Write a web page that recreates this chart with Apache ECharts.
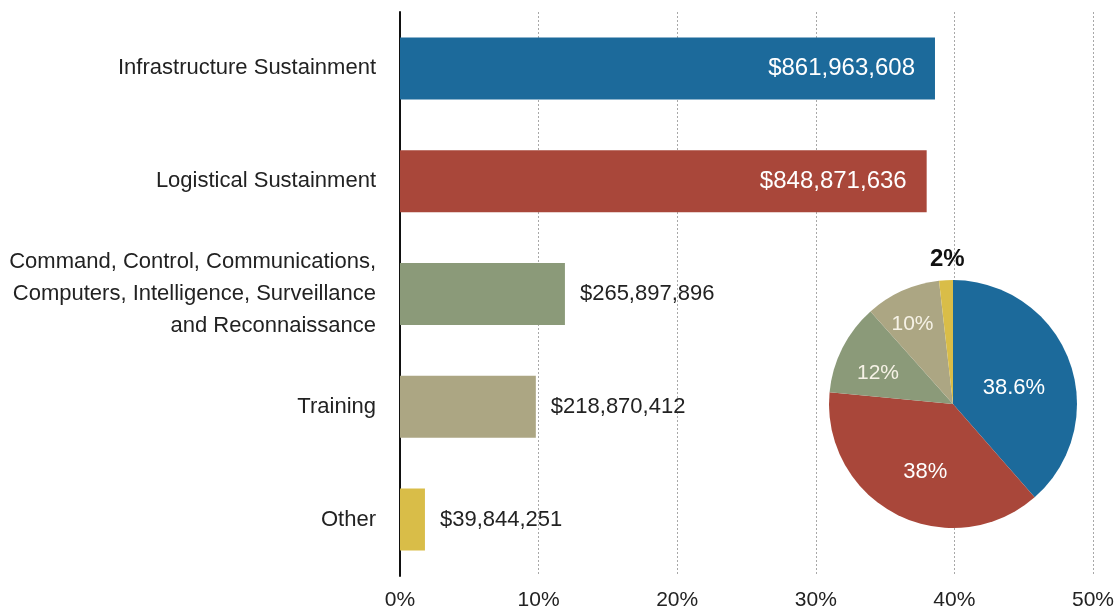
<!DOCTYPE html>
<html>
<head>
<meta charset="utf-8">
<script src="https://cdn.jsdelivr.net/npm/echarts@6/dist/echarts.min.js"></script>
<style>
  html, body { margin: 0; padding: 0; background: #fff; }
  #chart { width: 1117px; height: 613px; }
</style>
</head>
<body>
<div id="chart"></div>
<script>
// categories, top to bottom
const categories = [
  'Infrastructure Sustainment',
  'Logistical Sustainment',
  'Command, Control, Communications,\nComputers, Intelligence, Surveillance\nand Reconnaissance',
  'Training',
  'Other'
];
// share of total (%)
const sharePct = [38.6, 38.0, 11.9, 9.8, 1.8];
const dollarLabels = ['$861,963,608', '$848,871,636', '$265,897,896', '$218,870,412', '$39,844,251'];
const pieLabels = ['38.6%', '38%', '12%', '10%', '2%'];
const xTicks = [0, 10, 20, 30, 40, 50];
const colors = ['#1c6a9b', '#a9473a', '#8b9a79', '#aca683', '#d9bd48'];

const FONT = '"Liberation Sans", Arial, sans-serif';

// labels inside the bar for the two long ones
const insideLabel = [true, true, false, false, false];
const labelOffsets = [[0, 7], [2, 10], [-17, -1], [-14, -20], [-2, -80]];

const chart = echarts.init(document.getElementById('chart'), null, { renderer: 'canvas' });

const option = {
  backgroundColor: '#fff',
  animation: false,
  textStyle: { fontFamily: FONT },
  grid: { left: 400, right: 24, top: 12, bottom: 37, containLabel: false },
  xAxis: {
    type: 'value',
    min: xTicks[0],
    max: xTicks[xTicks.length - 1],
    interval: 10,
    axisLine: { show: false },
    axisTick: { show: false },
    splitLine: { show: true, lineStyle: { type: [2, 2], color: '#a8a8a8', width: 1 } },
    axisLabel: { formatter: '{value}%', fontSize: 21, color: '#222', margin: 14, fontFamily: FONT }
  },
  yAxis: {
    type: 'category',
    inverse: true,
    data: categories,
    axisLine: { show: true, lineStyle: { color: '#111', width: 2 } },
    axisTick: { show: false },
    axisLabel: { fontSize: 22, color: '#222', margin: 24, lineHeight: 32, align: 'right', fontFamily: FONT }
  },
  series: [
    {
      type: 'bar',
      barWidth: 62,
      data: sharePct.map((v, i) => ({
        value: v,
        itemStyle: { color: colors[i] },
        label: insideLabel[i]
          ? { show: true, position: 'insideRight', distance: 20, color: '#fff', fontSize: 24 }
          : { show: true, position: 'right', distance: 15, color: '#222', fontSize: 22 }
      })),
      label: {
        show: true,
        fontFamily: FONT,
        formatter: p => dollarLabels[p.dataIndex]
      },
      z: 2
    },
    {
      type: 'pie',
      center: [953, 404],
      radius: 124,
      startAngle: 90,
      clockwise: true,
      z: 5,
      label: {
        show: true,
        position: 'inside',
        color: '#fff',
        fontSize: 22,
        fontFamily: FONT,
        formatter: p => pieLabels[p.dataIndex]
      },
      labelLine: { show: false },
      data: sharePct.map((v, i) => ({
        value: v,
        name: pieLabels[i],
        itemStyle: { color: colors[i] },
        label: i === 4
          ? { offset: labelOffsets[i], color: '#111', fontWeight: 'bold', fontSize: 24 }
          : { offset: labelOffsets[i], color: i >= 2 ? '#f6f2e6' : '#fff', fontSize: i >= 2 ? 21 : 22 }
      }))
    }
  ]
};

chart.setOption(option);
</script>
</body>
</html>
